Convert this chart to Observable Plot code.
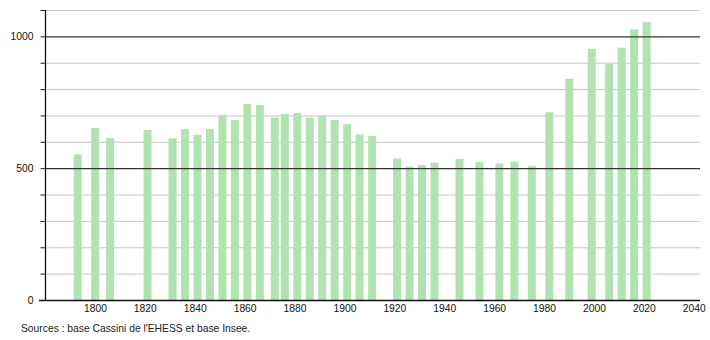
<!DOCTYPE html>
<html>
<head>
<meta charset="utf-8">
<script src="https://cdn.jsdelivr.net/npm/d3@7"></script>
<script src="https://cdn.jsdelivr.net/npm/@observablehq/plot@0.6"></script>
<style>
  html, body { margin: 0; padding: 0; background: #fff; }
  #chart { width: 710px; height: 340px; position: relative; font-family: "Liberation Sans", Arial, sans-serif; }
  #caption { position: absolute; left: 21px; top: 323px; font-size: 10.3px; color: #222; }
</style>
</head>
<body>
<div id="chart"></div>
<script>
const years = [1793, 1800, 1806, 1821, 1831, 1836, 1841, 1846, 1851, 1856, 1861, 1866, 1872, 1876, 1881, 1886, 1891, 1896, 1901, 1906, 1911, 1921, 1926, 1931, 1936, 1946, 1954, 1962, 1968, 1975, 1982, 1990, 1999, 2006, 2011, 2016, 2021];
const population = [553, 652, 614, 645, 613, 648, 627, 648, 702, 683, 744, 740, 692, 706, 709, 692, 700, 683, 668, 628, 622, 537, 506, 512, 521, 535, 523, 518, 525, 509, 712, 839, 953, 896, 957, 1027, 1055];
const yTicks = [0, 500, 1000];
const xTicks = [1800, 1820, 1840, 1860, 1880, 1900, 1920, 1940, 1960, 1980, 2000, 2020, 2040];
const minorGrid = [100, 200, 300, 400, 600, 700, 800, 900, 1100];
const majorGrid = [500, 1000];
const yTickMarks = [0, 100, 200, 300, 400, 500, 600, 700, 800, 900, 1000, 1100];
const captionText = "Sources : base Cassini de l'EHESS et base Insee.";

const data = years.map((y, i) => ({year: y, value: population[i]}));

const chart = Plot.plot({
  width: 710,
  height: 320,
  marginTop: 10,
  marginBottom: 20,
  marginLeft: 45,
  marginRight: 10,
  style: {fontFamily: "Liberation Sans, Arial, sans-serif", fontSize: "10.3px", color: "#111"},
  x: {type: "linear", domain: [1780, 2042.5], axis: null},
  y: {type: "linear", domain: [0, 1100], axis: null},
  marks: [
    Plot.ruleY(minorGrid, {y: d => d, stroke: "#c8c8c8", strokeWidth: 1, x1: 1780, x2: 2042.5}),
    Plot.ruleY(yTickMarks, {y: d => d, stroke: "#222", strokeWidth: 1, x1: 1778.2, x2: 1780}),
    Plot.rectY(data, {x1: d => d.year - 1.5, x2: d => d.year + 1.7, y1: 0, y2: "value", fill: "#b0e3b0"}),
    Plot.ruleY(majorGrid, {y: d => d, stroke: "#333", strokeWidth: 1.2, x1: 1780, x2: 2042.5}),
    Plot.ruleY([0], {y: d => d, stroke: "#111", strokeWidth: 1.3, x1: 1777.6, x2: 2042.5}),
    Plot.ruleX([1780], {x: d => d, stroke: "#111", strokeWidth: 1.3, y1: 0, y2: 1100}),
    Plot.text(yTicks, {x: 1780, y: d => d, text: d => String(d), textAnchor: "end", dx: -12, fill: "#111"}),
    Plot.text(xTicks, {x: d => d, y: 0, text: d => String(d), dy: 8.5, fill: "#111"})
  ]
});

const container = document.getElementById("chart");
container.appendChild(chart);
const cap = document.createElement("div");
cap.id = "caption";
cap.textContent = captionText;
container.appendChild(cap);
</script>
</body>
</html>
